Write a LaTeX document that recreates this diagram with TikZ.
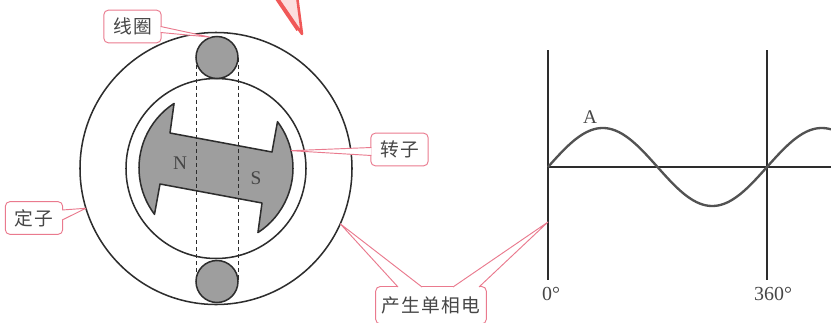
\documentclass[tikz,border=0pt]{standalone}
\usepackage{fontspec}
\setmainfont{Liberation Serif}
\newfontfamily\cjk[LetterSpace=7]{Noto Sans CJK SC}
\usetikzlibrary{calc}
\definecolor{mpink}{RGB}{234, 122, 142}
\definecolor{mred}{RGB}{240, 88, 88}
\definecolor{mgray}{RGB}{158, 158, 158}
\definecolor{mtext}{RGB}{70, 70, 70}
\definecolor{mline}{RGB}{45, 45, 45}

\begin{document}
\begin{tikzpicture}[x=0.03cm, y=0.03cm,
    part/.style={draw=mline, line width=1.3pt},
    coil/.style={circle, part, fill=mgray, minimum size=1.26cm, inner sep=0pt},
    callout/.style={draw=mpink, fill=white, rounded corners=4pt, line width=0.8pt, text=mtext,
      font=\cjk\fontsize{16}{18}\selectfont, minimum height=28pt, minimum width=49pt, inner xsep=5pt},
    pointer/.style={draw=mpink, fill=white, line width=0.8pt, line join=round},
    lbl/.style={text=mtext, inner sep=0pt, font=\fontsize{16.5}{19}\selectfont}]
    \clip (0, 0) rectangle (831, 322);

    % stator and rotor
    \coordinate (c) at (216, 153.5);
    \coordinate (rc) at (216, 154);
    \draw [part] (c) circle [radius=136];
    \draw [part] (c) circle [radius=90];
    \begin{scope}[shift={(rc)}]
      \filldraw [part, fill=mgray, line join=round] (123:77) -- (-46, 35) -- (56, 16) -- (37:77)
        arc [start angle=37, end angle=-57, radius=77] -- (46, -35) -- (-56, -16) -- (217:77)
        arc [start angle=217, end angle=123, radius=77] -- cycle;
    \end{scope}
    \node [lbl] (n) at (180, 159) {N};
    \node [lbl] (s) at (256, 144) {S};

    % coil sides
    \draw [mline, line width=0.8pt, dash pattern=on 3.5pt off 2.5pt] (196, 264.5) -- (196, 40.5);
    \draw [mline, line width=0.8pt, dash pattern=on 3.5pt off 2.5pt] (238, 264.5) -- (238, 40.5);
    \node [coil] (coilT) at (217, 264.5) {};
    \node [coil] (coilB) at (217, 40.5) {};

    % output wave
    \draw [mline, line width=0.9pt] (548, 272) -- (548, 42);
    \draw [mline, line width=0.9pt] (767, 272) -- (767, 42);
    \draw [mline, line width=0.9pt] (548, 155) -- (831, 155);
    \draw [black!68, line width=2pt, domain=548:831, samples=140, smooth]
      plot (\x, {155 + 39*sin((\x - 548)/219*360)});
    \node [lbl] (a) at (590, 205) {A};
    \node [lbl, anchor=base west, font=\fontsize{17}{20}\selectfont] (deg0) at (542, 22) {0°};
    \node [lbl, anchor=base west, font=\fontsize{17}{20}\selectfont] (deg360) at (754, 22) {360°};
    \coordinate (pt) at (548, 100);

    % callouts
    \node [callout] (xq) at (132.5, 295.5) {线圈};
    \filldraw [pointer] ($(xq.east)+(-1, 0)$) -- (coilT.110) -- ($(xq.east)+(-1, -6)$);
    \node [callout] (dz) at (34, 104) {定子};
    \filldraw [pointer] ($(dz.east)+(-1, 8)$) -- ($(c)+(197:136)$) -- ($(dz.east)+(-1, -2)$);
    \node [callout] (zz) at (399.5, 172.5) {转子};
    \filldraw [pointer] ($(zz.west)+(1, 2)$) -- ($(rc)+(13:77)$) -- ($(zz.west)+(1, -6)$);
    \node [callout, anchor=north, minimum height=32pt] (cs) at (431, 36) {产生单相电};
    \filldraw [pointer] ($(cs.north)+(-33, -1)$) -- ($(c)+(-24:136)$) -- ($(cs.north)+(-9, -1)$);
    \filldraw [pointer] ($(cs.north)+(22, -1)$) -- (pt) -- ($(cs.north)+(48, -1)$);

    % red mark at the top edge
    \filldraw [draw=mred, fill=mred!20, line width=2.2pt, line join=round] (276, 326) -- (302, 288) -- (297, 326);
    \draw [mred, line width=3pt] (275, 326) -- (298, 292);
\end{tikzpicture}
\end{document}
